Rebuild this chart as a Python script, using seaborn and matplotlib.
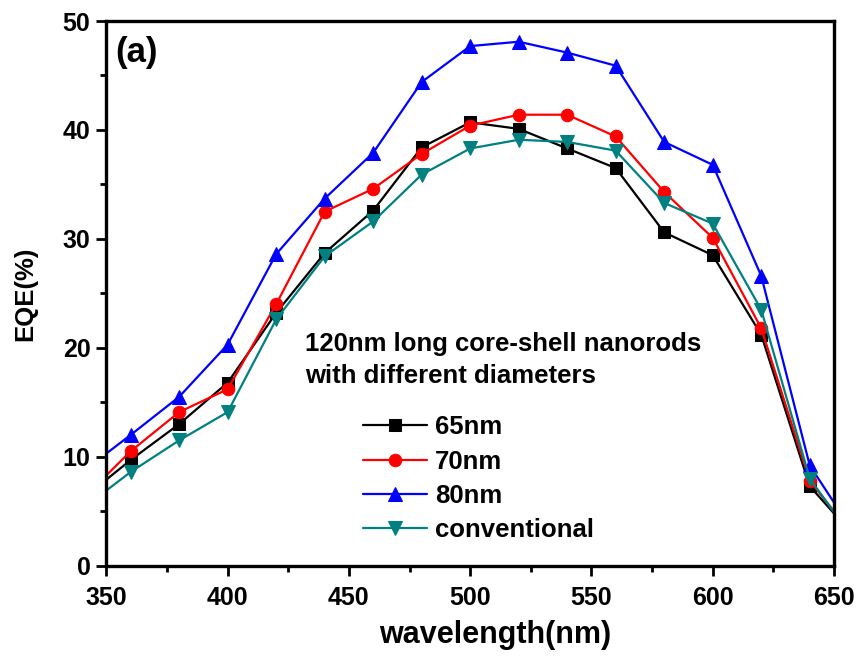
import matplotlib
matplotlib.use("Agg")
import matplotlib.pyplot as plt
import seaborn as sns
import pandas as pd
from matplotlib.ticker import MultipleLocator

wavelength = [350, 360, 380, 400, 420, 440, 460, 480, 500, 520, 540, 560, 580, 600, 620, 640, 650]
eqe_65 = [7.9, 9.7, 13.0, 16.8, 23.2, 28.7, 32.6, 38.4, 40.7, 40.1, 38.3, 36.5, 30.6, 28.5, 21.2, 7.3, 4.8]
eqe_70 = [8.3, 10.5, 14.1, 16.2, 24.0, 32.5, 34.6, 37.8, 40.4, 41.4, 41.4, 39.4, 34.3, 30.1, 21.8, 7.8, 5.0]
eqe_80 = [10.3, 12.0, 15.5, 20.3, 28.6, 33.7, 37.9, 44.4, 47.7, 48.1, 47.1, 45.9, 38.9, 36.8, 26.6, 9.2, 5.8]
eqe_conv = [6.9, 8.6, 11.5, 14.1, 22.6, 28.4, 31.6, 35.9, 38.3, 39.1, 38.9, 38.1, 33.3, 31.4, 23.5, 8.0, 4.9]

labels = ["65nm", "70nm", "80nm", "conventional"]
colors = ["#000000", "#ff0000", "#0000ff", "#008080"]
markers = ["s", "o", "^", "v"]

sns.set_style("ticks")
plt.rcParams['font.family'] = ['Liberation Sans', 'DejaVu Sans']
plt.rcParams['font.weight'] = 'bold'
plt.rcParams['text.color'] = 'black'
plt.rcParams['axes.labelcolor'] = 'black'
plt.rcParams['axes.edgecolor'] = 'black'
plt.rcParams['xtick.color'] = 'black'
plt.rcParams['ytick.color'] = 'black'

fig = plt.figure(figsize=(8.62, 6.57), dpi=100)
ax = fig.add_axes([0.1234, 0.139, 0.8441, 0.829])

series = [eqe_65, eqe_70, eqe_80, eqe_conv]
for vals, lab, col, mk in zip(series, labels, colors, markers):
    df = pd.DataFrame({"wavelength": wavelength, "EQE": vals})
    sns.lineplot(data=df, x="wavelength", y="EQE", ax=ax, color=col, marker=mk,
                 markersize=10.5 if mk in ("^", "v") else 9, markeredgecolor=col,
                 linewidth=1.6, label=lab, markevery=list(range(1, len(wavelength) - 1)),
                 clip_on=True)

ax.set_xlim(350, 650)
ax.set_ylim(0, 50)
ax.xaxis.set_major_locator(MultipleLocator(50))
ax.xaxis.set_minor_locator(MultipleLocator(25))
ax.yaxis.set_major_locator(MultipleLocator(10))
ax.yaxis.set_minor_locator(MultipleLocator(5))
ax.tick_params(which='major', direction='out', length=7.5, width=2.0, labelsize=18,
               colors='black')
ax.tick_params(which='minor', direction='out', length=4.5, width=2.0, colors='black')
ax.tick_params(axis='x', which='major', pad=7)
ax.tick_params(axis='y', which='major', pad=4)
for lbl in ax.get_xticklabels() + ax.get_yticklabels():
    lbl.set_fontweight('bold')
for sp in ax.spines.values():
    sp.set_visible(True)
    sp.set_linewidth(2.4)
    sp.set_edgecolor('black')

ax.set_xlabel("wavelength(nm)", fontsize=22, fontweight='bold', va='center', color='black')
ax.xaxis.set_label_coords(0.535, -0.127)
ax.set_ylabel("EQE(%)", fontsize=18.5, fontweight='bold', va='center', color='black')
ax.yaxis.set_label_coords(-0.111, 0.5)

ax.text(0.012, 0.943, "(a)", transform=ax.transAxes, fontsize=25, fontweight='bold',
        ha='left', va='center', color='black')
ax.text(0.273, 0.378, "120nm long core-shell nanorods\nwith different diameters",
        transform=ax.transAxes, fontsize=18.5, fontweight='bold', ha='left', va='center',
        linespacing=1.4, color='black')

leg = ax.legend(loc='upper left', bbox_to_anchor=(0.3527, 0.276), frameon=False,
                fontsize=18.5, handlelength=2.5, handletextpad=0.3, labelspacing=0.4,
                borderaxespad=0, borderpad=0)
for t in leg.get_texts():
    t.set_fontweight('bold')
    t.set_color('black')

fig.savefig("out.png", dpi=100)
